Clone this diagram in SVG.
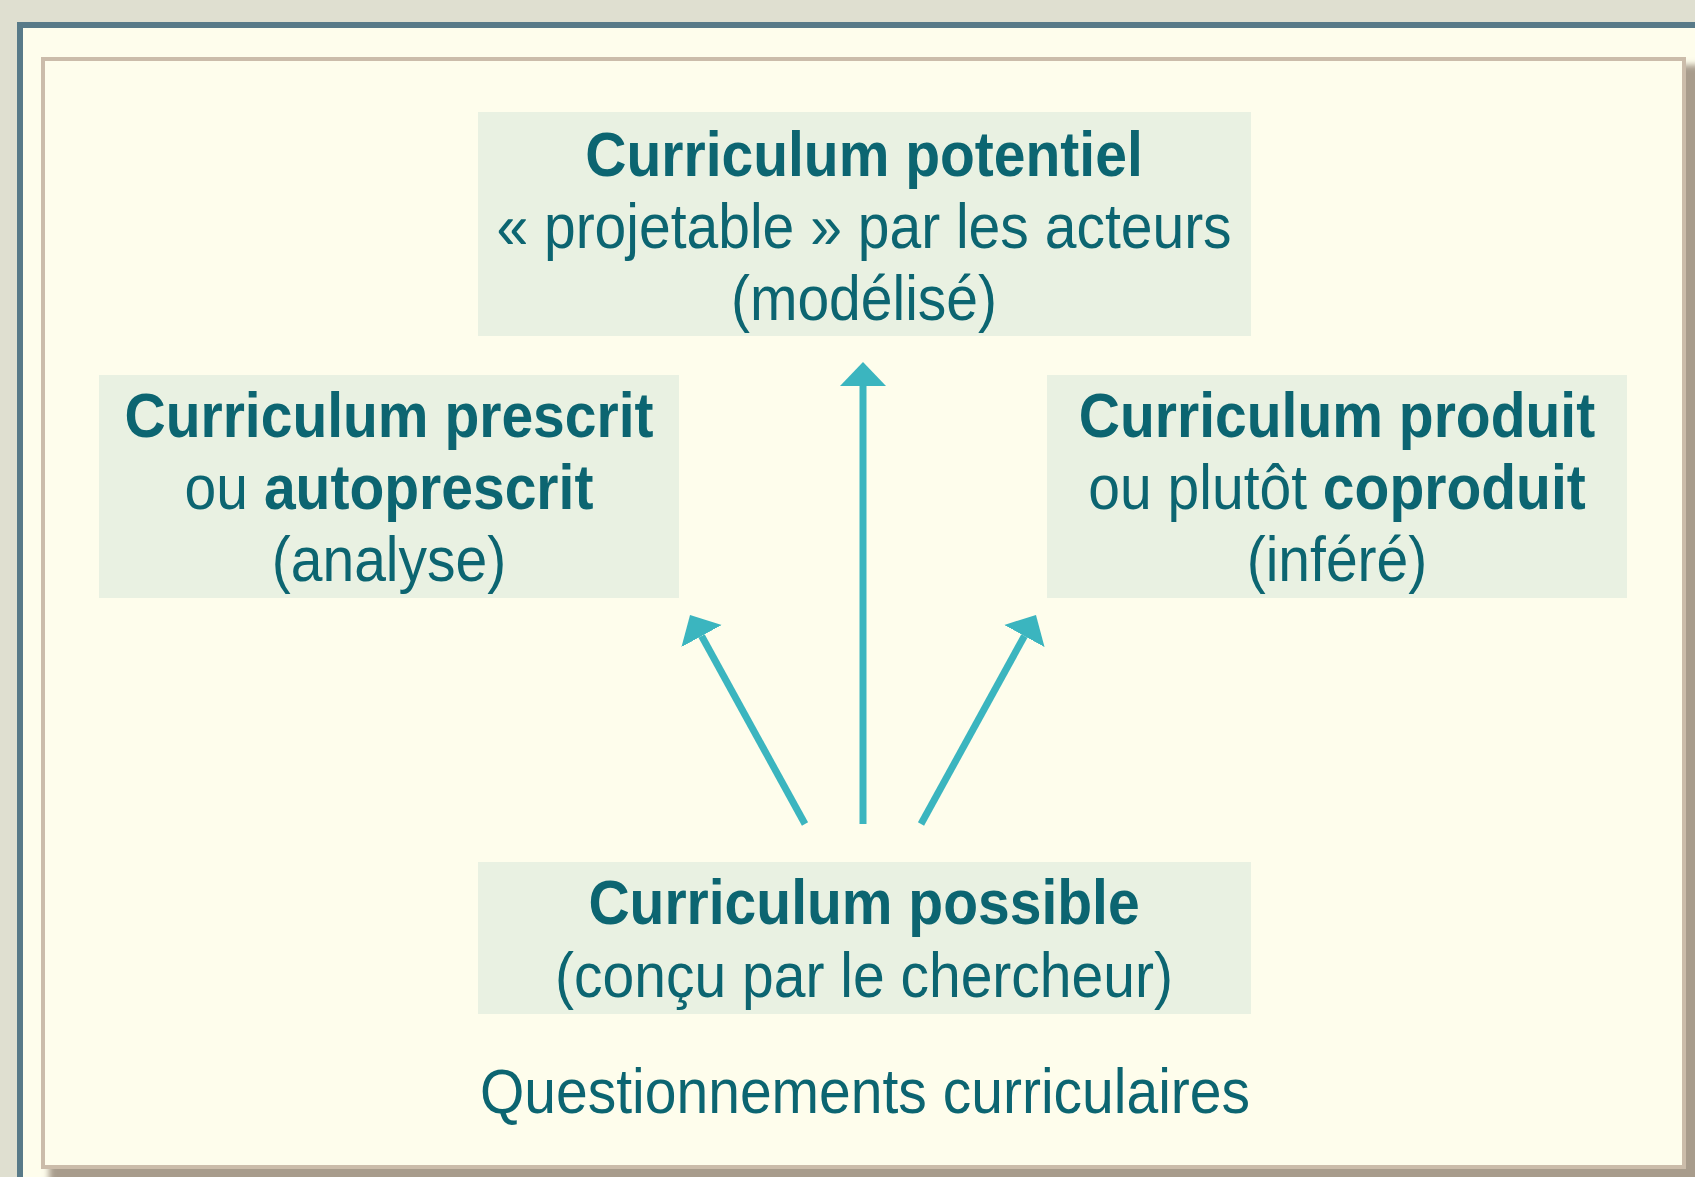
<svg xmlns="http://www.w3.org/2000/svg" width="1695" height="1177" viewBox="0 0 1695 1177">
<style>
.box{fill:#e9f1e2}
.t{font-family:"Liberation Sans",Arial,sans-serif;font-size:63px;fill:#0c6571;text-anchor:middle}
.b{font-weight:bold}
.arr{stroke:#3bb5bf;stroke-width:7;fill:none;marker-end:url(#head)}
</style>
<defs>
<marker id="head" viewBox="0 0 24 46" refX="0" refY="23" markerWidth="24" markerHeight="46" markerUnits="userSpaceOnUse" orient="auto">
<path d="M0,0 L24,23 L0,46 Z" fill="#3bb5bf"/>
</marker>
<filter id="sh" x="-5%" y="-5%" width="110%" height="110%"><feGaussianBlur stdDeviation="3"/></filter>
</defs>
<rect x="0" y="0" width="1695" height="1177" fill="#dfdfd0"/>
<rect x="20" y="25" width="1720" height="1200" fill="#fefdec" stroke="#587a88" stroke-width="6"/>
<rect x="49" y="65" width="1660" height="1120" fill="#a89c8c" filter="url(#sh)"/>
<rect x="43" y="59" width="1641" height="1108" fill="#fefdec" stroke="#cbbcaa" stroke-width="4"/>

<g id="connectors">
<line class="arr" x1="863" y1="824" x2="863" y2="386"/>
<line class="arr" x1="805" y1="824" x2="701.6" y2="636"/>
<line class="arr" x1="921" y1="824" x2="1024.4" y2="636"/>
</g>

<g id="node-potentiel">
<rect class="box" x="478" y="112" width="773" height="224"/>
<g transform="translate(864,0) scale(0.905,1)">
<text class="t b" x="0" y="176">Curriculum potentiel</text>
<text class="t" x="0" y="248">« projetable » par les acteurs</text>
<text class="t" x="0" y="320">(modélisé)</text>
</g>
</g>

<g id="node-prescrit">
<rect class="box" x="99" y="375" width="580" height="223"/>
<g transform="translate(389,0) scale(0.905,1)">
<text class="t b" x="0" y="437">Curriculum prescrit</text>
<text class="t" x="0" y="509">ou <tspan class="b">autoprescrit</tspan></text>
<text class="t" x="0" y="581">(analyse)</text>
</g>
</g>

<g id="node-produit">
<rect class="box" x="1047" y="375" width="580" height="223"/>
<g transform="translate(1337,0) scale(0.905,1)">
<text class="t b" x="0" y="437">Curriculum produit</text>
<text class="t" x="0" y="509">ou plutôt <tspan class="b">coproduit</tspan></text>
<text class="t" x="0" y="581">(inféré)</text>
</g>
</g>

<g id="node-possible">
<rect class="box" x="478" y="862" width="773" height="152"/>
<g transform="translate(864,0) scale(0.905,1)">
<text class="t b" x="0" y="924">Curriculum possible</text>
<text class="t" x="0" y="997">(conçu par le chercheur)</text>
</g>
</g>

<g id="caption">
<g transform="translate(865,0) scale(0.905,1)">
<text class="t" x="0" y="1113">Questionnements curriculaires</text>
</g>
</g>
</svg>
